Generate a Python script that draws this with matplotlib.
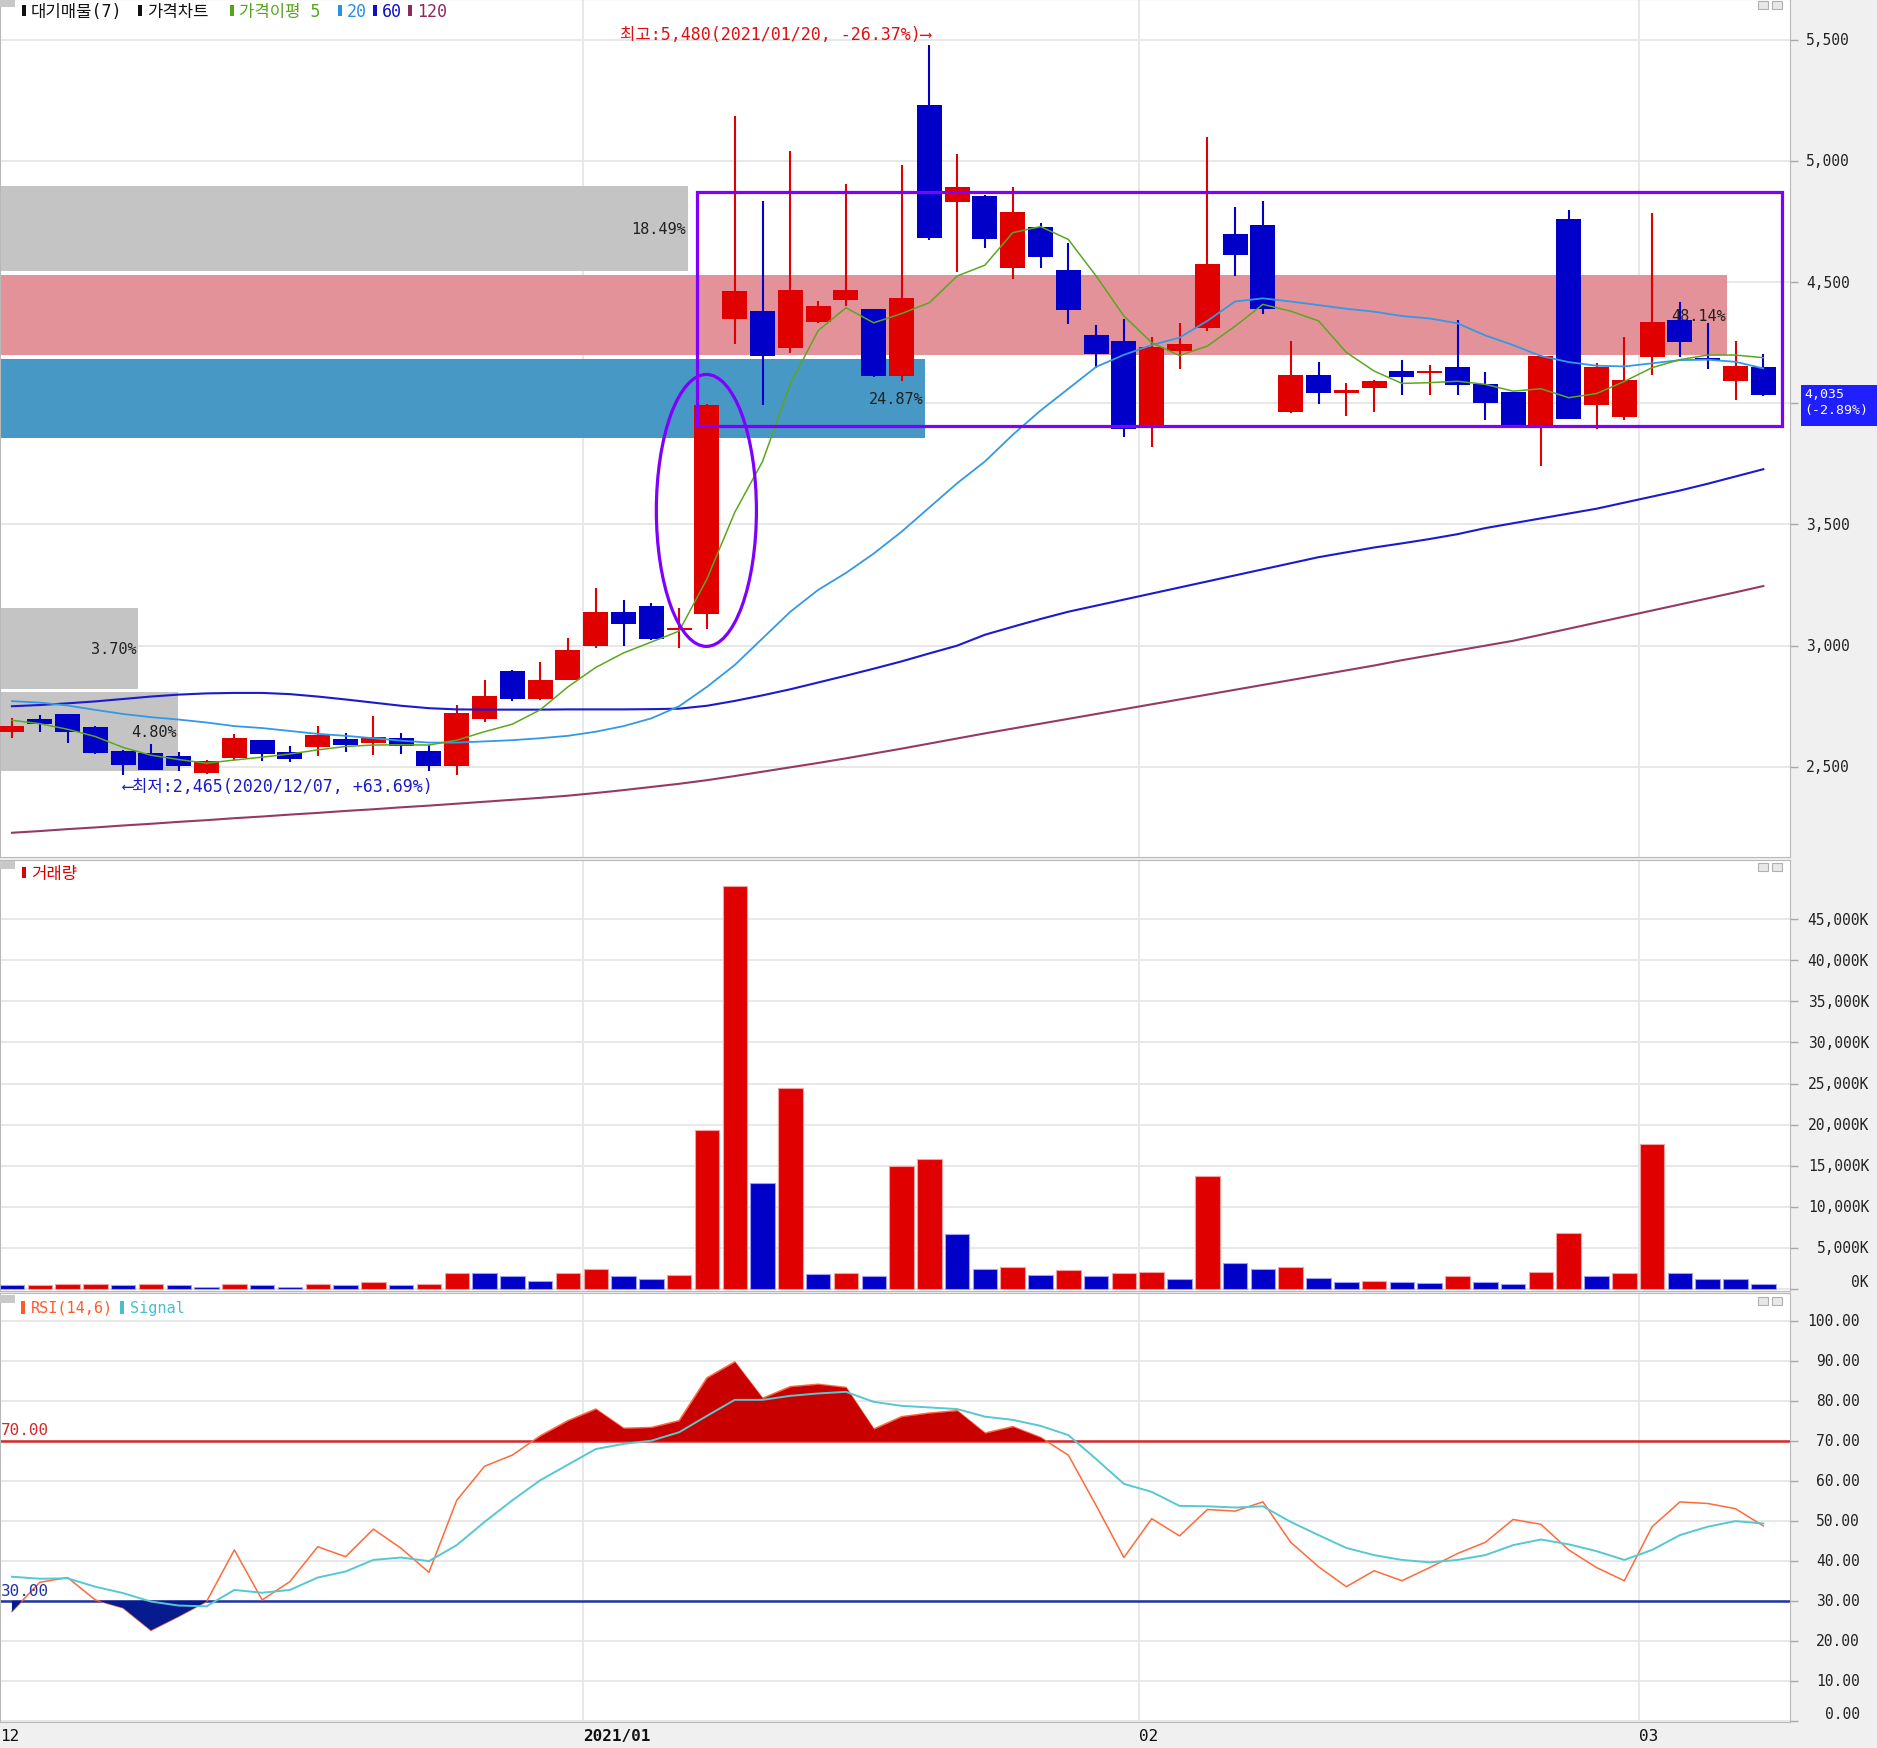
import numpy as np
import pandas as pd
import matplotlib
matplotlib.use("Agg")
from matplotlib import pyplot as plt
from matplotlib import transforms
from matplotlib.patches import Rectangle, Ellipse

plt.rcParams['font.family'] = ['DejaVu Sans Mono', 'Noto Sans CJK KR', 'DejaVu Sans']
plt.rcParams['axes.unicode_minus'] = False

# ---- data ----
holidays = ['2020-12-25', '2020-12-31', '2021-01-01', '2021-02-11', '2021-02-12', '2021-03-01']
dates = pd.bdate_range('2020-12-01', '2021-03-08', freq='C', holidays=holidays)

opens = [2643, 2698, 2716, 2665, 2567, 2558, 2544, 2475, 2537, 2610,
         2560, 2581, 2613, 2599, 2617, 2567, 2502, 2698, 2894, 2778,
         2860, 2998, 3138, 3163, 3063, 3131, 4346, 4380, 4229, 4335,
         4426, 4387, 4112, 5229, 4830, 4857, 4557, 4729, 4548, 4281,
         4257, 3909, 4215, 4309, 4697, 4734, 3965, 4115, 4041, 4061,
         4133, 4123, 4151, 4078, 4046, 3906, 4759, 3992, 3944, 4192,
         4343, 4184, 4091, 4151]
highs = [2702, 2713, 2720, 2668, 2570, 2596, 2560, 2530, 2636, 2612,
         2585, 2668, 2640, 2709, 2640, 2590, 2757, 2857, 2900, 2932,
         3032, 3236, 3188, 3175, 3156, 3995, 5185, 4834, 5040, 4420,
         4903, 4390, 4982, 5480, 5027, 4860, 4894, 4742, 4660, 4321,
         4349, 4275, 4333, 5098, 4809, 4834, 4259, 4171, 4085, 4095,
         4178, 4157, 4343, 4129, 4048, 4198, 4796, 4167, 4275, 4786,
         4419, 4333, 4257, 4202]
lows = [2620, 2643, 2600, 2555, 2465, 2487, 2482, 2470, 2530, 2523,
        2519, 2544, 2562, 2548, 2552, 2482, 2468, 2684, 2770, 2775,
        2857, 2990, 3000, 3025, 2991, 3067, 4243, 3992, 4206, 4330,
        4401, 4110, 4091, 4673, 4543, 4642, 4511, 4557, 4328, 4147,
        3862, 3821, 4143, 4300, 4525, 4370, 3961, 3995, 3947, 3965,
        4034, 4034, 4034, 3930, 3900, 3740, 3935, 3892, 3930, 4116,
        4192, 4143, 4013, 4030]
closes = [2670, 2677, 2643, 2558, 2507, 2489, 2502, 2523, 2617, 2551,
          2533, 2633, 2592, 2624, 2588, 2502, 2723, 2791, 2778, 2857,
          2981, 3138, 3090, 3028, 3072, 3991, 4462, 4197, 4467, 4400,
          4467, 4112, 4436, 4680, 4894, 4676, 4791, 4605, 4383, 4205,
          3895, 4233, 4246, 4573, 4611, 4387, 4115, 4041, 4054, 4091,
          4109, 4133, 4074, 4000, 3906, 4195, 3937, 4151, 4098, 4336,
          4254, 4177, 4155, 4035]

# volume in thousands of shares
volume_k = [430, 450, 650, 660, 450, 650, 450, 280, 650, 450,
            280, 650, 450, 810, 450, 650, 1950, 1920, 1540, 980,
            1910, 2480, 1540, 1180, 1700, 19400, 49000, 12900, 24500, 1790,
            1910, 1540, 14950, 15800, 6650, 2450, 2650, 1700, 2280, 1550,
            1900, 2100, 1180, 13800, 3170, 2440, 2640, 1380, 810, 980,
            810, 790, 1540, 810, 610, 2110, 6870, 1540, 1910, 17600,
            1910, 1180, 1170, 610]

ma5 = [2692, 2678, 2655, 2625, 2580, 2548, 2530, 2515, 2528, 2540,
       2553, 2570, 2584, 2590, 2591, 2590, 2610, 2645, 2676, 2735,
       2830, 2910, 2970, 3015, 3060, 3275, 3550, 3760, 4080, 4300,
       4394, 4332, 4370, 4415, 4525, 4570, 4704, 4729, 4676, 4525,
       4360, 4250, 4197, 4236, 4318, 4408, 4380, 4340, 4210, 4133,
       4082, 4085, 4091, 4078, 4050, 4060, 4023, 4040, 4090, 4147,
       4180, 4199, 4199, 4188]
ma20 = [2771, 2765, 2753, 2735, 2718, 2705, 2695, 2683, 2668, 2660,
        2648, 2636, 2628, 2618, 2608, 2600, 2600, 2605, 2610, 2618,
        2628, 2645, 2668, 2700, 2750, 2830, 2920, 3030, 3140, 3230,
        3300, 3380, 3470, 3570, 3670, 3760, 3870, 3970, 4060, 4150,
        4200, 4240, 4271, 4340, 4420, 4433, 4420, 4405, 4390, 4378,
        4360, 4350, 4330, 4280, 4240, 4195, 4170, 4155, 4152, 4165,
        4178, 4180, 4171, 4144]
ma60 = [2750, 2755, 2762, 2770, 2780, 2790, 2798, 2803, 2805, 2805,
        2800, 2790, 2778, 2765, 2752, 2742, 2737, 2736, 2736, 2736,
        2737, 2737, 2737, 2738, 2740, 2752, 2772, 2795, 2820, 2848,
        2876, 2905, 2935, 2968, 3000, 3045, 3078, 3110, 3140, 3165,
        3190, 3215, 3240, 3265, 3290, 3315, 3340, 3365, 3385, 3405,
        3422, 3440, 3460, 3485, 3505, 3525, 3545, 3565, 3590, 3615,
        3640, 3668, 3698, 3728]
ma120 = [2228, 2235, 2243, 2250, 2258, 2265, 2273, 2280, 2288, 2295,
         2303, 2310, 2318, 2325, 2333, 2340, 2348, 2356, 2364, 2372,
         2381, 2392, 2404, 2417, 2430, 2445, 2462, 2480, 2498, 2516,
         2535, 2555, 2575, 2596, 2617, 2638, 2658, 2678, 2698, 2718,
         2738, 2758, 2778, 2798, 2818, 2838, 2858, 2878, 2898, 2918,
         2940, 2960, 2980, 3000, 3020, 3045, 3070, 3095, 3120, 3145,
         3170, 3195, 3220, 3246]

rsi = [27.3, 34.6, 35.8, 30.2, 28.2, 22.6, 26.1, 29.8, 42.7, 30.2,
       34.8, 43.5, 41.0, 47.9, 43.1, 37.1, 55.1, 63.6, 66.4, 71.2,
       75.0, 77.9, 73.1, 73.3, 75.0, 85.7, 89.7, 80.6, 83.5, 84.1,
       83.3, 72.9, 76.0, 76.9, 77.5, 71.9, 73.5, 70.8, 66.4, 53.8,
       40.8, 50.5, 46.2, 52.8, 52.4, 54.7, 44.6, 38.5, 33.5, 37.5,
       35.0, 38.3, 41.8, 44.6, 50.3, 49.1, 42.7, 38.3, 35.0, 48.5,
       54.7, 54.3, 53.0, 48.7]
signal = [36.0, 35.5, 35.6, 33.5, 31.9, 29.8, 28.8, 28.6, 32.7, 32.0,
          32.7, 35.8, 37.3, 40.2, 40.8, 39.9, 43.9, 49.7, 55.1, 60.1,
          64.0, 67.9, 69.2, 70.0, 72.1, 76.2, 80.2, 80.2, 81.2, 81.8,
          82.2, 79.7, 78.7, 78.3, 77.9, 76.0, 75.2, 73.7, 71.4, 65.4,
          59.2, 57.2, 53.7, 53.6, 53.3, 53.6, 49.7, 46.4, 43.2, 41.4,
          40.2, 39.6, 40.2, 41.4, 43.9, 45.3, 44.1, 42.4, 40.2, 42.7,
          46.4, 48.5, 49.9, 49.3]

# 대기매물 (price-volume zones)
zone_lo = [2482, 2823, 3858, 4198, 4545]
zone_hi = [2808, 3157, 4184, 4530, 4895]
zone_pct = [4.80, 3.70, 24.87, 48.14, 18.49]

# ---- colours ----
RED = '#e00000'
BLUE = '#0000c8'

W, H = 1877, 1749
fig = plt.figure(figsize=(W / 100, H / 100), dpi=100, facecolor='#f0f0f0')

XL = (-0.43, 63.96)
AX_RIGHT = 1790


def add_panel(top, bottom):
    return fig.add_axes([0, 1 - bottom / H, AX_RIGHT / W, (bottom - top) / H])


def px_rect(x0, y0, x1, y1, **kw):
    fig.patches.append(Rectangle((x0 / W, 1 - y1 / H), (x1 - x0) / W, (y1 - y0) / H,
                                 transform=fig.transFigure, figure=fig, **kw))


def px_text(x, y, s, **kw):
    fig.text(x / W, 1 - y / H, s, **kw)


x = np.arange(len(closes))
o = np.array(opens); c = np.array(closes)
month_idx = [i for i in range(len(dates)) if i == 0 or dates[i].month != dates[i - 1].month]


def style(ax, yticks, ylim):
    ax.set_facecolor('white')
    ax.set_xlim(*XL)
    ax.set_ylim(*ylim)
    ax.set_yticks(yticks)
    ax.set_xticks([])
    ax.yaxis.tick_right()
    ax.tick_params(axis='y', length=6, width=1, color='#a8a8a8', labelright=False)
    for s in ax.spines.values():
        s.set_color('#b8b8b8')
    ax.set_axisbelow(True)
    ax.grid(axis='y', color='#e6e6e6', lw=1.3)
    for i in month_idx:
        ax.axvline(i - 0.47, color='#e6e6e6', lw=1.3, zorder=0)


def right_labels(ax, ticks, labels, x_px, ha, low_first=False):
    tr = transforms.blended_transform_factory(fig.transFigure, ax.transData)
    for t, lab in zip(ticks, labels):
        va = 'center'
        if low_first and t == ticks[0]:
            va = 'bottom'
        ax.text(x_px / W, t, lab, transform=tr, ha=ha, va=va, fontsize=10.5,
                color='#222222', clip_on=False)


# ================= price panel =================
ax_p = add_panel(0, 858)
p_ticks = list(range(2500, 5501, 500))
style(ax_p, p_ticks, (2128, 5668))
right_labels(ax_p, p_ticks, ["{:,}".format(v) for v in p_ticks], 1806, 'left')

# zones
span = XL[1] - XL[0]
order = np.argsort(zone_pct)[::-1]
zone_col = ['#c4c4c4'] * len(zone_pct)
zone_col[order[0]] = '#e39299'
zone_col[order[1]] = '#4898c5'
for lo, hi, pct, col in zip(zone_lo, zone_hi, zone_pct, zone_col):
    length = min(pct / max(zone_pct), 0.965) * span
    ax_p.add_patch(Rectangle((XL[0], lo), length, hi - lo, color=col, lw=0, zorder=1))
    ax_p.text(XL[0] + length - 0.05, (lo + hi) / 2, "{:.2f}%".format(pct), ha='right',
              va='center', fontsize=11, color='#202020', zorder=2)

# candles
col = np.where(c >= o, RED, BLUE)
ax_p.vlines(x, lows, highs, colors=col, lw=1.5, zorder=3)
ax_p.bar(x, np.maximum(np.abs(c - o), 8), bottom=np.minimum(o, c), width=0.9,
         color=col, lw=0, zorder=4)

# moving averages
ax_p.plot(x, ma120, color='#963a64', lw=1.5, zorder=5)
ax_p.plot(x, ma60, color='#1a1ad0', lw=1.5, zorder=5)
ax_p.plot(x, ma20, color='#3399e6', lw=1.3, zorder=5)
ax_p.plot(x, ma5, color='#5aa81e', lw=1.1, zorder=5)

# user drawn marks
ax_p.add_patch(Rectangle((24.65, 3907), 63.67 - 24.65, 4871 - 3907, fill=False,
                         ec='#8000ff', lw=2.3, zorder=6))
ax_p.add_patch(Ellipse((24.98, 3558), 3.6, 1122, fill=False, ec='#8000ff', lw=2.3, zorder=6))

# high / low notes
last = closes[-1]
hi_i = int(np.argmax(highs)); lo_i = int(np.argmin(lows))
ax_p.annotate("최고:{:,}({}, {:.2f}%)⟶".format(highs[hi_i], dates[hi_i].strftime('%Y/%m/%d'),
                                              (last - highs[hi_i]) / highs[hi_i] * 100),
              xy=(hi_i, highs[hi_i]), xytext=(1, 11), textcoords='offset pixels',
              ha='right', va='center', fontsize=12, color='#e01010', zorder=7)
ax_p.annotate("⟵최저:{:,}({}, +{:.2f}%)".format(lows[lo_i], dates[lo_i].strftime('%Y/%m/%d'),
                                              (last - lows[lo_i]) / lows[lo_i] * 100),
              xy=(lo_i, lows[lo_i]), xytext=(0, -11), textcoords='offset pixels',
              ha='left', va='center', fontsize=12, color='#1a1acc', zorder=7)

# legend
legend_items = [("대기매물(7)", '#111111', '#111111', 22),
                ("가격차트", '#111111', '#111111', 138),
                ("가격이평 5", '#55a51c', '#55a51c', 230),
                ("20", '#2a8fdf', '#2a8fdf', 338),
                ("60", '#1010c8', '#1010c8', 373),
                ("120", '#8c2a5a', '#8c2a5a', 408)]
for lab, mcol, tcol, lx in legend_items:
    px_rect(lx, 6, lx + 3.5, 17, color=mcol, lw=0)
    px_text(lx + 9, 12, lab, va='center', fontsize=12, color=tcol)

# ================= volume panel =================
ax_v = add_panel(861, 1292)
v_ticks = list(range(0, 45001, 5000))
style(ax_v, v_ticks, (-243, 52190))
right_labels(ax_v, v_ticks, ["{:,}K".format(v) for v in v_ticks], 1869, 'right', low_first=True)
vol = np.array(volume_k)
vcol = [BLUE] + [RED if vol[i] >= vol[i - 1] else BLUE for i in range(1, len(vol))]
vedge = ['#f2a0a0' if cc == RED else '#a0a0f0' for cc in vcol]
ax_v.bar(x, vol, width=0.88, color=vcol, edgecolor=vedge, lw=0.8, zorder=3)
px_rect(22, 868, 25.5, 879, color=RED, lw=0)
px_text(31, 874, "거래량", va='center', fontsize=12, color=RED)

# ================= RSI panel =================
ax_r = add_panel(1294, 1723)
r_ticks = list(range(0, 101, 10))
style(ax_r, r_ticks, (-0.3, 106.9))
right_labels(ax_r, r_ticks, ["{:.2f}".format(v) for v in r_ticks], 1860, 'right', low_first=True)
r = np.array(rsi)
ax_r.axhline(70, color='#d42a2a', lw=1.8, zorder=2)
ax_r.axhline(30, color='#2035a5', lw=1.8, zorder=2)
ax_r.plot(x, r, color='#ff6a3a', lw=1.1, zorder=2)
ax_r.fill_between(x, r, 70, where=r >= 70, interpolate=True, color='#c80000', lw=0, zorder=3)
ax_r.fill_between(x, r, 30, where=r <= 30, interpolate=True, color='#061c8e', lw=0, zorder=3)
ax_r.plot(x, signal, color='#55c8d2', lw=1.4, zorder=5)
ax_r.text(XL[0] + 0.02, 70.8, "70.00", ha='left', va='bottom', fontsize=11.5, color='#d42a2a')
ax_r.text(XL[0] + 0.02, 30.8, "30.00", ha='left', va='bottom', fontsize=11.5, color='#2035a5')
px_rect(21, 1302, 25, 1315, color='#ff5a2a', lw=0)
px_text(31, 1308, "RSI(14,6)", va='center', fontsize=11, color='#ff5a2a')
px_rect(120, 1302, 124, 1315, color='#45c0cc', lw=0)
px_text(130, 1308, "Signal", va='center', fontsize=11, color='#45c0cc')

# month labels under the chart
tr_b = transforms.blended_transform_factory(ax_r.transData, fig.transFigure)
for i in month_idx:
    if i > 0 and dates[i].year != dates[i - 1].year:
        lab, wt = dates[i].strftime('%Y/%m'), 'bold'
    else:
        lab, wt = dates[i].strftime('%m'), 'normal'
    ax_r.text(max(i - 0.47, XL[0]), 1 - 1737 / H, lab, transform=tr_b, ha='left', va='center',
              fontsize=11.5, fontweight=wt, color='#111111', clip_on=False)

# panel corner icons
for top in (0, 862, 1296):
    px_rect(0, top, 15, top + 8, color='#c8c8c8', lw=0)
    px_rect(1758, top + 2, 1768, top + 10, fc='#e8e8e8', ec='#b0b0b0', lw=0.8)
    px_rect(1772, top + 2, 1782, top + 10, fc='#e8e8e8', ec='#b0b0b0', lw=0.8)

# current price tag (one text, two lines)
ypix = ax_p.transData.transform((0, last))[1]
ytop = H - ypix
prev = closes[-2]
px_rect(1801, ytop - 10, W, ytop + 31, color='#1f1fff', lw=0)
px_text(1804, ytop - 8, "{:,}\n({:.2f}%)".format(last, (last - prev) / prev * 100),
        va='top', ha='left', fontsize=9.5, linespacing=1.3, color='white')

fig.savefig("out.png", dpi=100, facecolor=fig.get_facecolor())
